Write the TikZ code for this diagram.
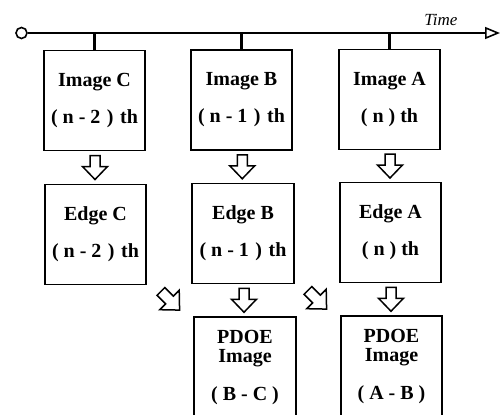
\documentclass[tikz,border=0pt]{standalone}
\usepackage{fontspec}
\setmainfont{Liberation Serif}
\usetikzlibrary{arrows.meta,calc}

\newcommand{\gp}{\hspace{1.5pt}}
\tikzset{
  stage/.style={draw, line width=1.8pt, minimum width=101.5pt, minimum height=100pt,
    align=center, inner sep=0pt, font=\bfseries\fontsize{20}{23}\selectfont},
  tick/.style={line width=2.6pt},
  timeline/.style={line width=2.8pt},
  blockarrow/.pic={
    \draw[line width=1.5pt, line join=miter, fill=white]
      (-5,-12) -- (5,-12) -- (5,-1) -- (12.5,-1) -- (0,12) -- (-12.5,-1) -- (-5,-1) -- cycle;
  }
}

\begin{document}
\begin{tikzpicture}[x=1pt,y=-1pt]
\useasboundingbox (0,0) rectangle (501,415);
\clip (0,0) rectangle (501,415);

% source frames
\node[stage] (imgC) at (94.5,100.5) {Image C\\[14pt]( n - 2 \gp)\gp{} th};
\node[stage] (imgB) at (241.5,100) {Image B\\[14pt]( n - 1 \gp)\gp{} th};
\node[stage] (imgA) at (389.5,99.5) {Image A\\[14pt]( n ) th};

% edge maps
\node[stage] (edgeC) at (95.5,234.5) {Edge C\\[14pt]( n - 2 \gp)\gp{} th};
\node[stage] (edgeB) at (243,233.5) {Edge B\\[14pt]( n - 1 \gp)\gp{} th};
\node[stage] (edgeA) at (390.5,232.5) {Edge A\\[14pt]( n ) th};

% difference images (run off the lower edge)
\node[stage, minimum height=102pt] (pdoeBC) at (245,368)
  {PDOE\\[-4pt]Image\\[15pt]( B - C )};
\node[stage, minimum height=102pt] (pdoeAB) at (391.5,367)
  {PDOE\\[-4pt]Image\\[15pt]( A - B )};

% time axis
\node[draw, circle, line width=1.6pt, minimum size=11pt, inner sep=0pt, fill=white] (origin) at (21.5,33) {};
\coordinate (tend) at (500,33);
\draw[timeline, -{Triangle[open, length=15pt, width=12pt, line width=1.6pt]}] (origin) -- (tend);
\node[font=\itshape\fontsize{17}{20}\selectfont] (timelbl) at (441,20) {Time};

\draw[tick] (imgC.north) -- (imgC.north |- origin);
\draw[tick] (imgB.north) -- (imgB.north |- origin);
\draw[tick] (imgA.north) -- (imgA.north |- origin);

% processing steps
\pic at ($(imgC.south)!0.5!(edgeC.north)$) {blockarrow};
\pic at ($(imgB.south)!0.5!(edgeB.north)$) {blockarrow};
\pic at ($(imgA.south)!0.5!(edgeA.north)$) {blockarrow};
\pic at ($(edgeB.south)!0.5!(pdoeBC.north)$) {blockarrow};
\pic at ($(edgeA.south)!0.5!(pdoeAB.north)$) {blockarrow};
\pic[rotate=45, scale=1.1] at ($(edgeC.south east)!0.5!(pdoeBC.north west)$) {blockarrow};
\pic[rotate=45, scale=1.1] at ($(edgeB.south east)!0.5!(pdoeAB.north west)$) {blockarrow};
\end{tikzpicture}
\end{document}
